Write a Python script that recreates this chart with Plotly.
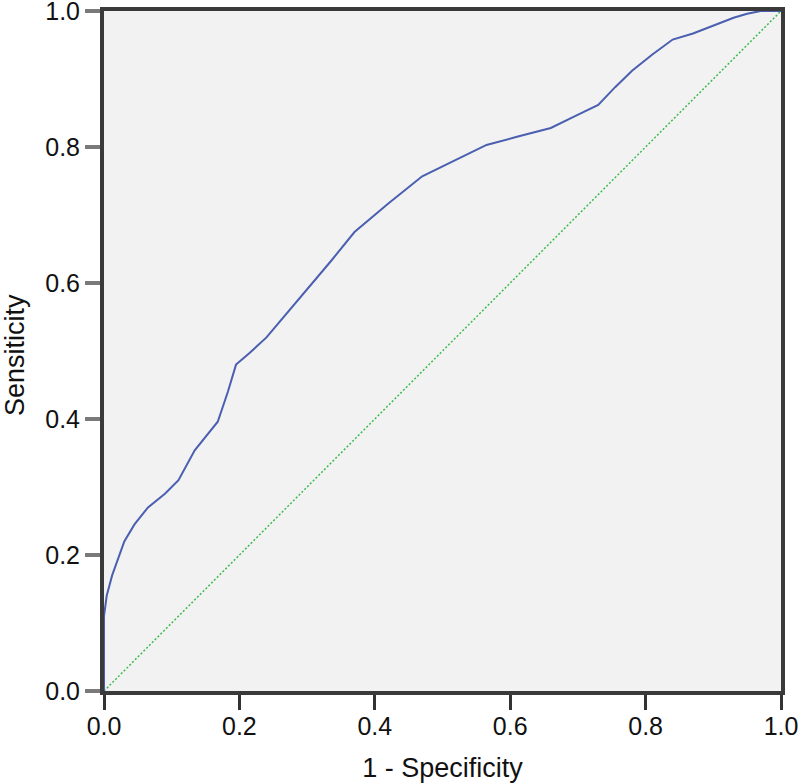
import plotly.graph_objects as go

fpr = [0.0, 0.0, 0.004, 0.012, 0.03, 0.045, 0.065, 0.09, 0.11, 0.134, 0.168, 0.183, 0.195, 0.215, 0.24, 0.27, 0.30, 0.335, 0.37, 0.42, 0.47, 0.52, 0.565, 0.61, 0.66, 0.695, 0.73, 0.755, 0.78, 0.81, 0.84, 0.87, 0.9, 0.93, 0.95, 0.97, 1.0]
tpr = [0.0, 0.11, 0.14, 0.17, 0.22, 0.245, 0.27, 0.29, 0.31, 0.354, 0.396, 0.44, 0.48, 0.497, 0.52, 0.555, 0.59, 0.632, 0.675, 0.717, 0.757, 0.781, 0.803, 0.815, 0.828, 0.845, 0.862, 0.888, 0.912, 0.936, 0.958, 0.967, 0.978, 0.99, 0.996, 1.0, 1.0]
ref_x = [0.0, 1.0]
ref_y = [0.0, 1.0]
ticks = [0.0, 0.2, 0.4, 0.6, 0.8, 1.0]
tick_text = ["0.0", "0.2", "0.4", "0.6", "0.8", "1.0"]
x_title = "1 - Specificity"
y_title = "Sensiticity"

FONT = "Liberation Sans, Arial, sans-serif"

fig = go.Figure()
fig.add_trace(go.Scatter(x=ref_x, y=ref_y, mode="lines",
                         line=dict(color="#3dbb4a", width=1.5, dash="2px,2px"),
                         showlegend=False, hoverinfo="skip"))
fig.add_trace(go.Scatter(x=fpr, y=tpr, mode="lines",
                         line=dict(color="#4a5fb0", width=2),
                         showlegend=False))

axis_common = dict(
    range=[0, 1], tickvals=ticks, ticktext=tick_text,
    showgrid=False, zeroline=False, automargin=False,
    ticklabeloverflow="allow",
    showline=True, linecolor="#3a3a3a", linewidth=4, mirror=True,
    ticks="outside", ticklen=15,
    tickfont=dict(family=FONT, size=25, color="#111111"),
)

fig.update_layout(
    width=800, height=783,
    margin=dict(l=104, r=19, t=11, b=92),
    paper_bgcolor="white", plot_bgcolor="#f2f2f2",
    xaxis=dict(**axis_common, tickwidth=3, tickcolor="#333333",
               ticklabelstandoff=-5,
               title=dict(text=x_title, standoff=21,
                          font=dict(family=FONT, size=27, color="#111111"))),
    yaxis=dict(**axis_common, tickwidth=4, tickcolor="#7a7a7a"),
)

fig.add_annotation(text=y_title, xref="paper", yref="paper", x=0, y=0.5,
                   xanchor="center", yanchor="middle", xshift=-89, yshift=-4,
                   textangle=-90, showarrow=False,
                   font=dict(family=FONT, size=27, color="#111111"))

fig.write_html("out.html", config={"displayModeBar": False},
               post_script="document.body.style.margin='0';document.body.style.overflow='hidden';")
